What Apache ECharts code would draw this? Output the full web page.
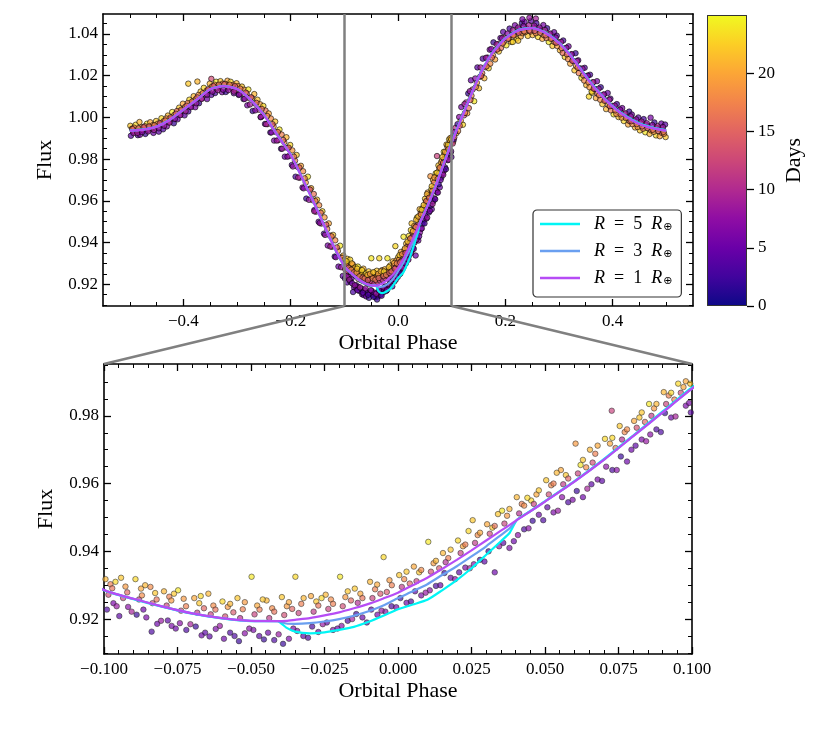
<!DOCTYPE html>
<html>
<head>
<meta charset="utf-8">
<script src="https://cdn.jsdelivr.net/npm/echarts@6.0.0/dist/echarts.min.js"></script>
<style>
  html, body { margin: 0; padding: 0; background: #fff; }
  #chart { width: 830px; height: 738px; }
</style>
</head>
<body>
<div id="chart"></div>
<script>
// observations outside the zoom window: [phase, flux, day]
var pointsOuter = [
  [-0.499,0.9960,22],[-0.496,0.9946,18],[-0.494,0.9931,12],[-0.498,0.9912,4],
  [-0.489,0.9965,23],[-0.492,0.9951,17],[-0.487,0.9936,11],[-0.485,0.9915,3],
  [-0.482,0.9978,21],[-0.478,0.9953,19],[-0.476,0.9939,13],[-0.481,0.9917,6],
  [-0.468,0.9970,24],[-0.472,0.9958,16],[-0.466,0.9941,10],[-0.471,0.9921,2],
  [-0.462,0.9977,20],[-0.457,0.9963,18],[-0.459,0.9947,12],[-0.456,0.9926,5],
  [-0.451,0.9983,22],[-0.448,0.9970,19],[-0.453,0.9952,11],[-0.446,0.9932,4],
  [-0.441,0.9996,23],[-0.437,0.9982,17],[-0.443,0.9965,13],[-0.438,0.9943,3],
  [-0.429,1.0009,21],[-0.432,0.9995,18],[-0.427,0.9978,10],[-0.431,0.9957,6],
  [-0.421,1.0026,24],[-0.417,1.0012,19],[-0.423,0.9994,12],[-0.418,0.9972,2],
  [-0.408,1.0047,22],[-0.412,1.0031,16],[-0.406,1.0013,11],[-0.411,0.9991,5],
  [-0.401,1.0066,20],[-0.397,1.0050,18],[-0.403,1.0033,13],[-0.398,1.0010,4],
  [-0.389,1.0085,23],[-0.392,1.0069,17],[-0.387,1.0052,11],[-0.391,1.0029,3],
  [-0.381,1.0102,21],[-0.377,1.0088,19],[-0.383,1.0071,12],[-0.378,1.0049,6],
  [-0.368,1.0124,22],[-0.372,1.0108,18],[-0.366,1.0091,10],[-0.371,1.0068,2],
  [-0.362,1.0142,23],[-0.357,1.0128,17],[-0.359,1.0111,13],[-0.356,1.0088,5],
  [-0.391,1.0162,22],[-0.374,1.0172,21],[-0.348,1.0185,13],
  [-0.351,1.0162,21],[-0.347,1.0148,19],[-0.353,1.0131,11],[-0.348,1.0108,4],
  [-0.339,1.0171,24],[-0.342,1.0157,18],[-0.337,1.0140,12],[-0.341,1.0117,3],
  [-0.331,1.0174,22],[-0.327,1.0162,17],[-0.333,1.0145,10],[-0.328,1.0121,6],
  [-0.318,1.0176,20],[-0.322,1.0161,19],[-0.316,1.0145,13],[-0.321,1.0122,2],
  [-0.312,1.0171,23],[-0.307,1.0157,16],[-0.309,1.0139,11],[-0.306,1.0116,5],
  [-0.301,1.0164,21],[-0.298,1.0150,18],[-0.303,1.0131,12],[-0.297,1.0108,4],
  [-0.291,1.0148,22],[-0.287,1.0133,19],[-0.293,1.0114,10],[-0.288,1.0088,3],
  [-0.279,1.0134,24],[-0.282,1.0115,17],[-0.277,1.0092,13],[-0.281,1.0058,6],
  [-0.268,1.0112,21],[-0.272,1.0092,18],[-0.266,1.0066,11],[-0.271,1.0031,2],
  [-0.262,1.0085,22],[-0.257,1.0063,19],[-0.259,1.0037,12],[-0.256,1.0001,5],
  [-0.251,1.0055,23],[-0.247,1.0033,16],[-0.253,1.0007,10],[-0.248,0.9969,4],
  [-0.241,1.0019,20],[-0.237,0.9995,18],[-0.243,0.9968,13],[-0.238,0.9928,3],
  [-0.229,0.9980,22],[-0.232,0.9957,19],[-0.227,0.9929,11],[-0.231,0.9889,6],
  [-0.221,0.9942,24],[-0.217,0.9918,17],[-0.223,0.9891,12],[-0.218,0.9850,2],
  [-0.208,0.9905,21],[-0.212,0.9881,18],[-0.206,0.9853,10],[-0.211,0.9812,5],
  [-0.201,0.9868,23],[-0.197,0.9842,19],[-0.203,0.9815,13],[-0.198,0.9772,4],
  [-0.189,0.9820,22],[-0.192,0.9793,17],[-0.187,0.9763,11],[-0.191,0.9716,3],
  [-0.181,0.9768,20],[-0.177,0.9742,18],[-0.183,0.9711,12],[-0.178,0.9664,6],
  [-0.168,0.9716,24],[-0.172,0.9688,19],[-0.166,0.9657,10],[-0.171,0.9611,2],
  [-0.162,0.9661,21],[-0.157,0.9633,16],[-0.159,0.9603,13],[-0.156,0.9556,5],
  [-0.151,0.9606,22],[-0.147,0.9579,18],[-0.153,0.9548,11],[-0.148,0.9500,4],
  [-0.141,0.9550,23],[-0.137,0.9521,19],[-0.143,0.9491,12],[-0.138,0.9443,3],
  [-0.129,0.9492,20],[-0.132,0.9465,17],[-0.127,0.9434,10],[-0.131,0.9386,6],
  [-0.121,0.9437,22],[-0.117,0.9411,18],[-0.123,0.9380,13],[-0.118,0.9333,2],
  [-0.108,0.9385,24],[-0.112,0.9360,19],[-0.106,0.9330,11],[-0.111,0.9285,5],
  [-0.102,0.9338,21],[-0.103,0.9240,4],
  [-0.495,0.9944,15],[-0.493,0.9925,8],[-0.484,0.9948,16],[-0.486,0.9926,9],
  [-0.474,0.9953,14],[-0.477,0.9930,7],[-0.464,0.9957,15],[-0.466,0.9933,8],
  [-0.454,0.9962,17],[-0.455,0.9940,9],[-0.444,0.9972,14],[-0.446,0.9948,7],
  [-0.434,0.9985,16],[-0.436,0.9960,8],[-0.424,1.0000,15],[-0.426,0.9975,9],
  [-0.414,1.0018,14],[-0.416,0.9993,7],[-0.404,1.0037,16],[-0.406,1.0011,8],
  [-0.394,1.0056,15],[-0.396,1.0030,9],[-0.384,1.0076,17],[-0.386,1.0049,7],
  [-0.374,1.0096,14],[-0.376,1.0068,8],[-0.364,1.0116,16],[-0.366,1.0089,9],
  [-0.354,1.0135,15],[-0.356,1.0109,7],[-0.344,1.0150,14],[-0.346,1.0124,8],
  [-0.334,1.0157,16],[-0.336,1.0131,9],[-0.324,1.0159,15],[-0.326,1.0133,7],
  [-0.314,1.0157,17],[-0.316,1.0131,8],[-0.304,1.0150,14],[-0.306,1.0124,9],
  [-0.294,1.0138,16],[-0.296,1.0110,7],[-0.284,1.0119,15],[-0.286,1.0089,8],
  [-0.274,1.0097,14],[-0.276,1.0062,9],[-0.264,1.0070,16],[-0.266,1.0034,7],
  [-0.254,1.0041,15],[-0.256,1.0003,8],[-0.244,1.0007,17],[-0.246,0.9968,9],
  [-0.234,0.9968,14],[-0.236,0.9928,7],[-0.224,0.9930,16],[-0.226,0.9889,8],
  [-0.214,0.9892,15],[-0.216,0.9850,9],[-0.204,0.9855,14],[-0.206,0.9812,7],
  [-0.194,0.9812,16],[-0.196,0.9765,8],[-0.184,0.9760,15],[-0.186,0.9712,9],
  [-0.174,0.9708,17],[-0.176,0.9660,7],[-0.164,0.9654,14],[-0.166,0.9605,8],
  [-0.154,0.9599,16],[-0.156,0.9550,9],[-0.144,0.9543,15],[-0.146,0.9494,7],
  [-0.134,0.9486,14],[-0.136,0.9437,8],[-0.124,0.9430,16],[-0.126,0.9381,9],
  [-0.114,0.9377,15],[-0.116,0.9330,7],[-0.104,0.9326,17],[-0.106,0.9282,8],
  [0.101,0.9905,22],[0.103,0.9885,17],[0.102,0.9875,12],[0.104,0.9895,4],
  [0.109,0.9925,21],[0.112,0.9935,18],[0.107,0.9950,11],[0.111,0.9968,3],
  [0.121,0.9965,23],[0.117,0.9985,19],[0.123,1.0010,13],[0.118,1.0050,6],
  [0.129,1.0020,20],[0.132,1.0045,16],[0.127,1.0072,10],[0.131,1.0115,2],
  [0.142,1.0078,24],[0.137,1.0104,18],[0.139,1.0134,12],[0.136,1.0178,5],
  [0.151,1.0140,22],[0.147,1.0166,19],[0.153,1.0195,11],[0.148,1.0240,4],
  [0.161,1.0188,21],[0.157,1.0212,17],[0.163,1.0241,13],[0.158,1.0282,3],
  [0.169,1.0236,23],[0.172,1.0258,18],[0.167,1.0287,10],[0.171,1.0325,6],
  [0.181,1.0278,20],[0.177,1.0298,19],[0.183,1.0324,12],[0.178,1.0360,2],
  [0.188,1.0316,22],[0.192,1.0333,16],[0.187,1.0352,11],[0.191,1.0381,5],
  [0.202,1.0346,24],[0.197,1.0362,18],[0.199,1.0382,13],[0.196,1.0410,4],
  [0.211,1.0362,21],[0.207,1.0378,19],[0.213,1.0397,10],[0.208,1.0426,3],
  [0.221,1.0378,23],[0.217,1.0394,17],[0.223,1.0413,12],[0.218,1.0442,6],
  [0.229,1.0388,20],[0.232,1.0404,18],[0.227,1.0424,11],[0.231,1.0453,2],
  [0.242,1.0391,22],[0.237,1.0409,19],[0.239,1.0428,13],[0.236,1.0458,5],
  [0.251,1.0395,21],[0.247,1.0412,16],[0.253,1.0431,10],[0.248,1.0463,4],
  [0.245,1.0478,8],[0.232,1.0471,6],[0.257,1.0474,9],[0.214,1.0362,23],[0.224,1.0368,22],
  [0.261,1.0386,23],[0.257,1.0404,18],[0.263,1.0422,12],[0.258,1.0452,3],
  [0.269,1.0377,20],[0.272,1.0394,19],[0.267,1.0414,11],[0.271,1.0443,6],
  [0.281,1.0362,24],[0.277,1.0381,17],[0.283,1.0398,13],[0.278,1.0428,2],
  [0.288,1.0343,22],[0.292,1.0361,18],[0.287,1.0379,10],[0.291,1.0409,5],
  [0.302,1.0322,21],[0.297,1.0342,19],[0.299,1.0361,12],[0.296,1.0392,4],
  [0.311,1.0290,23],[0.307,1.0309,16],[0.313,1.0332,11],[0.308,1.0369,3],
  [0.321,1.0258,20],[0.317,1.0280,18],[0.323,1.0303,13],[0.318,1.0341,6],
  [0.329,1.0226,22],[0.332,1.0247,19],[0.327,1.0271,10],[0.331,1.0308,2],
  [0.342,1.0190,24],[0.337,1.0213,17],[0.339,1.0236,12],[0.336,1.0274,5],
  [0.351,1.0155,21],[0.347,1.0177,18],[0.353,1.0200,11],[0.348,1.0238,4],
  [0.356,1.0100,23],[0.362,1.0118,22],
  [0.361,1.0124,23],[0.357,1.0145,19],[0.363,1.0168,13],[0.358,1.0205,3],
  [0.369,1.0093,20],[0.372,1.0114,16],[0.367,1.0137,10],[0.371,1.0174,6],
  [0.381,1.0064,22],[0.377,1.0085,18],[0.383,1.0108,12],[0.378,1.0145,2],
  [0.388,1.0040,21],[0.392,1.0060,19],[0.387,1.0082,11],[0.391,1.0117,5],
  [0.402,1.0015,24],[0.397,1.0034,17],[0.399,1.0056,13],[0.396,1.0090,4],
  [0.411,1.0002,22],[0.407,1.0017,18],[0.413,1.0036,10],[0.408,1.0064,3],
  [0.421,0.9983,23],[0.417,0.9999,19],[0.423,1.0017,12],[0.418,1.0045,6],
  [0.429,0.9966,20],[0.432,0.9982,16],[0.427,1.0001,11],[0.431,1.0028,2],
  [0.442,0.9952,21],[0.437,0.9968,18],[0.439,0.9986,13],[0.436,1.0014,5],
  [0.451,0.9938,22],[0.447,0.9954,19],[0.453,0.9972,10],[0.448,1.0000,4],
  [0.461,0.9929,24],[0.457,0.9946,17],[0.463,0.9964,12],[0.458,0.9992,3],
  [0.469,0.9921,21],[0.472,0.9938,18],[0.467,0.9957,11],[0.471,0.9999,6],
  [0.481,0.9914,23],[0.477,0.9931,19],[0.483,0.9949,13],[0.478,0.9976,2],
  [0.488,0.9910,20],[0.492,0.9926,16],[0.487,0.9944,10],[0.491,0.9971,5],
  [0.499,0.9906,22],[0.496,0.9922,18],[0.494,0.9940,12],[0.498,0.9966,4],
  [0.105,0.9905,15],[0.106,0.9930,8],[0.115,0.9960,14],[0.114,1.0002,7],
  [0.125,1.0022,16],[0.124,1.0064,9],[0.135,1.0084,15],[0.134,1.0126,8],
  [0.145,1.0146,17],[0.144,1.0187,7],[0.155,1.0199,14],[0.154,1.0240,9],
  [0.165,1.0245,16],[0.164,1.0286,8],[0.175,1.0287,15],[0.174,1.0328,7],
  [0.185,1.0326,14],[0.184,1.0351,9],[0.195,1.0355,16],[0.194,1.0380,8],
  [0.205,1.0377,15],[0.204,1.0402,7],[0.215,1.0393,17],[0.214,1.0418,9],
  [0.225,1.0406,14],[0.224,1.0431,8],[0.235,1.0413,16],[0.234,1.0438,7],
  [0.245,1.0417,15],[0.244,1.0442,9],[0.255,1.0415,14],[0.254,1.0440,8],
  [0.265,1.0406,16],[0.264,1.0431,7],[0.275,1.0394,15],[0.274,1.0419,9],
  [0.285,1.0377,17],[0.284,1.0402,8],[0.295,1.0358,14],[0.294,1.0383,7],
  [0.305,1.0333,16],[0.304,1.0362,9],[0.315,1.0303,15],[0.314,1.0334,8],
  [0.325,1.0272,14],[0.324,1.0303,7],[0.335,1.0239,16],[0.334,1.0270,9],
  [0.345,1.0203,15],[0.344,1.0234,8],[0.355,1.0169,17],[0.354,1.0200,7],
  [0.365,1.0138,14],[0.364,1.0169,9],[0.375,1.0107,16],[0.374,1.0138,8],
  [0.385,1.0080,15],[0.384,1.0111,7],[0.395,1.0054,14],[0.394,1.0085,9],
  [0.405,1.0034,16],[0.404,1.0057,8],[0.415,1.0015,15],[0.414,1.0038,7],
  [0.425,0.9997,17],[0.424,1.0020,9],[0.435,0.9982,14],[0.434,1.0005,8],
  [0.445,0.9968,16],[0.444,0.9991,7],[0.455,0.9957,15],[0.454,0.9980,9],
  [0.465,0.9949,14],[0.464,0.9972,8],[0.475,0.9941,16],[0.474,0.9964,7],
  [0.485,0.9935,15],[0.484,0.9958,9],[0.495,0.9931,17],[0.494,0.9954,8]
];

// observations inside the zoom window (-0.1 .. 0.1): [phase, flux, day]
var pointsZoom = [
  [-0.0995,0.9318,21],[-0.0978,0.9303,17],[-0.0985,0.9272,13],[-0.0968,0.9247,6],[-0.0990,0.9228,3],
  [-0.0942,0.9322,22],[-0.0927,0.9296,19],[-0.0935,0.9262,12],[-0.0918,0.9236,7],[-0.0948,0.9209,4],
  [-0.0893,0.9318,23],[-0.0874,0.9290,20],[-0.0881,0.9258,11],[-0.0866,0.9228,5],[-0.0889,0.9213,2],
  [-0.0842,0.9295,18],[-0.0826,0.9277,22],[-0.0835,0.9247,13],[-0.0819,0.9186,5],[-0.0838,0.9163,3],
  [-0.0796,0.9282,21],[-0.0778,0.9266,17],[-0.0787,0.9240,12],[-0.0770,0.9180,6],[-0.0783,0.9196,4],
  [-0.0748,0.9285,24],[-0.0729,0.9260,19],[-0.0738,0.9225,14],[-0.0720,0.9168,3],[-0.0742,0.9188,7],
  [-0.0693,0.9262,20],[-0.0676,0.9247,22],[-0.0683,0.9219,11],[-0.0668,0.9152,5],[-0.0688,0.9178,2],
  [-0.0645,0.9275,21],[-0.0628,0.9240,18],[-0.0637,0.9214,12],[-0.0620,0.9171,6],[-0.0641,0.9149,4],
  [-0.0597,0.9252,23],[-0.0579,0.9236,19],[-0.0588,0.9208,13],[-0.0571,0.9160,3],[-0.0592,0.9142,5],
  [-0.0546,0.9262,22],[-0.0528,0.9229,17],[-0.0537,0.9203,10],[-0.0521,0.9158,7],[-0.0541,0.9135,2],
  [-0.0498,0.9325,24],[-0.0479,0.9240,20],[-0.0488,0.9214,12],[-0.0472,0.9150,4],[-0.0492,0.9168,6],
  [-0.0447,0.9255,21],[-0.0428,0.9232,18],[-0.0438,0.9203,11],[-0.0421,0.9138,3],[-0.0442,0.9160,5],
  [-0.0395,0.9265,22],[-0.0378,0.9238,19],[-0.0387,0.9212,13],[-0.0371,0.9142,6],[-0.0391,0.9127,2],
  [-0.0349,0.9325,23],[-0.0329,0.9245,17],[-0.0338,0.9218,12],[-0.0322,0.9150,4],[-0.0343,0.9165,7],
  [-0.0296,0.9268,20],[-0.0278,0.9252,22],[-0.0287,0.9222,11],[-0.0271,0.9162,5],[-0.0292,0.9178,3],
  [-0.0246,0.9272,21],[-0.0228,0.9258,18],[-0.0237,0.9230,12],[-0.0221,0.9168,6],[-0.0242,0.9190,4],
  [-0.0197,0.9325,24],[-0.0179,0.9265,19],[-0.0188,0.9238,13],[-0.0171,0.9195,3],[-0.0192,0.9180,7],
  [-0.0147,0.9290,22],[-0.0128,0.9275,20],[-0.0137,0.9248,10],[-0.0121,0.9205,5],[-0.0142,0.9215,2],
  [-0.0095,0.9310,21],[-0.0078,0.9288,17],[-0.0087,0.9262,12],[-0.0070,0.9213,6],[-0.0091,0.9228,4],
  [-0.0049,0.9383,23],[-0.0029,0.9315,19],[-0.0038,0.9280,14],[-0.0022,0.9238,3],[-0.0043,0.9222,7],
  [0.0004,0.9330,22],[0.0021,0.9318,18],[0.0013,0.9295,11],[0.0029,0.9248,5],[0.0008,0.9262,2],
  [0.0054,0.9355,20],[0.0072,0.9338,22],[0.0063,0.9312,12],[0.0079,0.9270,6],[0.0058,0.9282,4],
  [0.0103,0.9428,24],[0.0121,0.9365,19],[0.0112,0.9340,13],[0.0129,0.9298,3],[0.0108,0.9285,7],
  [0.0153,0.9395,21],[0.0171,0.9380,17],[0.0162,0.9368,10],[0.0179,0.9322,5],[0.0158,0.9336,2],
  [0.0204,0.9432,23],[0.0221,0.9415,20],[0.0213,0.9395,12],[0.0229,0.9352,6],[0.0208,0.9338,4],
  [0.0254,0.9492,22],[0.0271,0.9448,18],[0.0262,0.9425,11],[0.0279,0.9375,3],[0.0258,0.9362,7],
  [0.0303,0.9480,20],[0.0321,0.9470,22],[0.0312,0.9452,13],[0.0329,0.9338,5],[0.0308,0.9400,2],
  [0.0354,0.9520,24],[0.0371,0.9505,19],[0.0362,0.9482,12],[0.0379,0.9410,6],[0.0358,0.9425,4],
  [0.0404,0.9560,21],[0.0421,0.9540,17],[0.0412,0.9512,10],[0.0429,0.9465,3],[0.0408,0.9448,7],
  [0.0453,0.9550,23],[0.0471,0.9568,20],[0.0462,0.9540,12],[0.0479,0.9508,5],[0.0458,0.9490,2],
  [0.0504,0.9610,22],[0.0521,0.9595,18],[0.0513,0.9568,13],[0.0529,0.9515,6],[0.0508,0.9530,4],
  [0.0554,0.9640,20],[0.0571,0.9625,22],[0.0562,0.9598,11],[0.0579,0.9545,3],[0.0558,0.9560,7],
  [0.0604,0.9718,19],[0.0621,0.9655,24],[0.0612,0.9630,12],[0.0629,0.9560,5],[0.0608,0.9578,2],
  [0.0653,0.9700,21],[0.0671,0.9688,17],[0.0662,0.9662,13],[0.0679,0.9612,6],[0.0658,0.9598,4],
  [0.0704,0.9732,23],[0.0721,0.9718,20],[0.0727,0.9815,12],[0.0729,0.9640,3],[0.0708,0.9650,7],
  [0.0754,0.9770,22],[0.0771,0.9752,18],[0.0762,0.9730,10],[0.0779,0.9665,5],[0.0758,0.9680,2],
  [0.0803,0.9785,20],[0.0821,0.9795,22],[0.0812,0.9765,13],[0.0829,0.9730,6],[0.0808,0.9712,4],
  [0.0854,0.9835,24],[0.0871,0.9822,19],[0.0862,0.9800,11],[0.0879,0.9760,3],[0.0858,0.9745,7],
  [0.0904,0.9870,21],[0.0921,0.9860,17],[0.0912,0.9835,12],[0.0929,0.9795,5],[0.0908,0.9808,2],
  [0.0953,0.9895,23],[0.0971,0.9885,20],[0.0962,0.9868,13],[0.0979,0.9830,6],[0.0996,0.9810,4],
  [-0.0972,0.9291,16],[-0.0957,0.9238,8],[-0.0961,0.9310,23],[-0.0921,0.9279,15],[-0.0906,0.9222,9],
  [-0.0871,0.9270,18],[-0.0856,0.9205,6],[-0.0860,0.9300,21],[-0.0821,0.9258,16],[-0.0806,0.9195,8],
  [-0.0771,0.9255,19],[-0.0756,0.9172,5],[-0.0762,0.9275,22],[-0.0721,0.9238,17],[-0.0706,0.9185,9],
  [-0.0671,0.9268,23],[-0.0656,0.9160,4],[-0.0660,0.9232,15],[-0.0621,0.9228,16],[-0.0606,0.9180,8],
  [-0.0571,0.9245,21],[-0.0556,0.9150,3],[-0.0560,0.9220,14],[-0.0521,0.9250,19],[-0.0506,0.9172,7],
  [-0.0471,0.9228,17],[-0.0456,0.9140,2],[-0.0460,0.9258,22],[-0.0421,0.9222,16],[-0.0406,0.9155,8],
  [-0.0371,0.9250,20],[-0.0356,0.9172,6],[-0.0360,0.9230,15],[-0.0321,0.9262,21],[-0.0306,0.9145,3],
  [-0.0271,0.9240,16],[-0.0256,0.9185,8],[-0.0260,0.9262,23],[-0.0221,0.9245,17],[-0.0206,0.9172,5],
  [-0.0171,0.9282,22],[-0.0156,0.9200,9],[-0.0160,0.9255,15],[-0.0121,0.9262,16],[-0.0106,0.9190,4],
  [-0.0071,0.9302,20],[-0.0056,0.9225,8],[-0.0060,0.9275,14],[-0.0021,0.9300,17],[-0.0006,0.9235,6],
  [0.0029,0.9340,22],[0.0044,0.9252,3],[0.0040,0.9305,15],[0.0079,0.9345,18],[0.0094,0.9278,8],
  [0.0129,0.9372,21],[0.0144,0.9300,5],[0.0140,0.9350,14],[0.0179,0.9405,22],[0.0194,0.9318,7],
  [0.0229,0.9420,17],[0.0244,0.9350,9],[0.0240,0.9460,23],[0.0279,0.9455,20],[0.0294,0.9370,4],
  [0.0329,0.9475,16],[0.0344,0.9415,8],[0.0340,0.9510,22],[0.0379,0.9525,21],[0.0394,0.9430,5],
  [0.0429,0.9535,18],[0.0444,0.9468,7],[0.0440,0.9558,23],[0.0479,0.9580,22],[0.0494,0.9492,3],
  [0.0529,0.9600,17],[0.0544,0.9520,8],[0.0540,0.9632,21],[0.0579,0.9615,15],[0.0594,0.9552,6],
  [0.0629,0.9670,22],[0.0644,0.9585,9],[0.0640,0.9648,18],[0.0679,0.9712,20],[0.0694,0.9608,4],
  [0.0729,0.9735,23],[0.0744,0.9640,7],[0.0740,0.9705,16],[0.0779,0.9760,18],[0.0794,0.9700,5],
  [0.0829,0.9810,22],[0.0844,0.9725,8],[0.0840,0.9782,15],[0.0879,0.9835,21],[0.0894,0.9752,3],
  [0.0929,0.9868,23],[0.0944,0.9798,9],[0.0940,0.9848,17],[0.0979,0.9902,20],[0.0994,0.9895,22],
  [0.0990,0.9838,6]
];

// model light curves
var modelPhase = [-0.5,-0.475,-0.45,-0.425,-0.4,-0.375,-0.35,-0.325,-0.3,-0.275,-0.25,-0.225,-0.2,-0.175,-0.15,-0.125,
  -0.1,-0.09,-0.08,-0.07,-0.06,-0.05,-0.041,-0.038,-0.035,-0.03,-0.025,-0.02,-0.015,-0.01,-0.005,0,
  0.005,0.01,0.015,0.02,0.025,0.03,0.035,0.038,0.0405,0.045,0.05,0.06,0.07,0.08,0.09,0.1,
  0.125,0.15,0.175,0.2,0.225,0.25,0.275,0.3,0.325,0.35,0.375,0.4,0.425,0.45,0.475,0.5];
var fluxR1 = [0.9936,0.9942,0.9956,0.9989,1.0037,1.0085,1.0135,1.0150,1.0136,1.0085,1.0012,0.9915,0.9820,0.9690,0.9553,0.9410,
  0.9286,0.9260,0.9237,0.9217,0.9203,0.9195,0.9194,0.9195,0.9198,0.9203,0.9211,0.9220,0.9232,0.9245,0.9261,0.9278,
  0.9300,0.9322,0.9348,0.9375,0.9403,0.9432,0.9461,0.9478,0.9493,0.9518,0.9547,0.9606,0.9670,0.9740,0.9810,0.9880,
  1.0037,1.0190,1.0305,1.0378,1.0418,1.0428,1.0405,1.0357,1.0285,1.0196,1.0117,1.0052,1.0004,0.9969,0.9949,0.9937];
var fluxR3 = [0.9936,0.9942,0.9956,0.9989,1.0037,1.0085,1.0135,1.0150,1.0136,1.0085,1.0012,0.9915,0.9820,0.9690,0.9553,0.9410,
  0.9286,0.9260,0.9237,0.9217,0.9203,0.9195,0.9194,0.9187,0.9186,0.9188,0.9193,0.9200,0.9210,0.9223,0.9240,0.9262,
  0.9282,0.9303,0.9330,0.9356,0.9385,0.9415,0.9448,0.9468,0.9493,0.9518,0.9547,0.9606,0.9670,0.9740,0.9810,0.9880,
  1.0037,1.0190,1.0305,1.0378,1.0418,1.0428,1.0405,1.0357,1.0285,1.0196,1.0117,1.0052,1.0004,0.9969,0.9949,0.9937];
var fluxR5 = [0.9937,0.9943,0.9957,0.9990,1.0038,1.0086,1.0136,1.0151,1.0137,1.0086,1.0013,0.9916,0.9821,0.9691,0.9554,0.9410,
  0.9285,0.9259,0.9236,0.9216,0.9202,0.9194,0.9194,0.9175,0.9163,0.9158,0.9161,0.9168,0.9177,0.9192,0.9210,0.9229,
  0.9243,0.9257,0.9285,0.9315,0.9350,0.9390,0.9430,0.9455,0.9493,0.9519,0.9548,0.9607,0.9672,0.9742,0.9813,0.9884,
  1.0040,1.0192,1.0307,1.0380,1.0420,1.0430,1.0407,1.0359,1.0288,1.0199,1.0120,1.0055,1.0007,0.9972,0.9952,0.9940];

// tick labels
var topPhaseTicks = [-0.4, -0.2, 0.0, 0.2, 0.4];
var topFluxTicks = [0.92, 0.94, 0.96, 0.98, 1.00, 1.02, 1.04];
var zoomPhaseTicks = [-0.1, -0.075, -0.05, -0.025, 0, 0.025, 0.05, 0.075, 0.1];
var zoomFluxTicks = [0.92, 0.94, 0.96, 0.98];
var dayTicks = [0, 5, 10, 15, 20];

var modelNames = ['R5', 'R3', 'R1'];
var modelRadius = { R5: '5', R3: '3', R1: '1' };
var modelColors = { R5: '#00f5f5', R3: '#6a9ff0', R1: '#b64cf5' };

var plasma = ['#0d0887', '#41049d', '#6a00a8', '#8f0da4', '#b12a90', '#cc4778',
  '#e16462', '#f2844b', '#fca636', '#fcce25', '#f0f921'];

var FONT = "'Liberation Serif', 'DejaVu Serif', serif";
var MINUS = '\u2212';

function steps(a, b, s) {
  var out = [];
  for (var v = a; v <= b + 1e-9; v += s) out.push(+v.toFixed(4));
  return out;
}
function fmt(d) {
  return function (v) { return v.toFixed(d).replace('-', MINUS); };
}

// four axes per direction: main (labels), minor, mirror, mirror minor
function frameAxes(dim, grid, min, max, majors, minors, format, name, nameGap) {
  var line = { color: '#000', width: 1.6 };
  var pos = dim === 'x' ? ['bottom', 'top'] : ['left', 'right'];
  var base = { gridIndex: grid, type: 'value', min: min, max: max, splitLine: { show: false } };
  function major(p, withLabels) {
    var a = Object.assign({}, base, {
      position: p,
      axisLine: { show: true, onZero: false, lineStyle: line },
      axisTick: { show: true, inside: true, length: 7, customValues: majors, lineStyle: { color: '#000', width: 1.3 } },
      axisLabel: withLabels ? {
        customValues: majors, formatter: format, fontFamily: FONT, fontSize: 17, color: '#000',
        margin: dim === 'x' ? 7 : 5
      } : { show: false }
    });
    if (withLabels) {
      a.name = name;
      a.nameLocation = 'middle';
      a.nameGap = nameGap;
      a.nameTextStyle = { fontFamily: FONT, fontSize: 22, color: '#000' };
    }
    return a;
  }
  function minor(p) {
    return Object.assign({}, base, {
      position: p,
      axisLine: { show: false, onZero: false },
      axisTick: { show: true, inside: true, length: 4, customValues: minors, lineStyle: { color: '#000', width: 1 } },
      axisLabel: { show: false }
    });
  }
  return [major(pos[0], true), minor(pos[0]), major(pos[1], false), minor(pos[1])];
}

var xAxes = []
  .concat(frameAxes('x', 0, -0.55, 0.55, topPhaseTicks, steps(-0.5, 0.5, 0.05), fmt(1), 'Orbital Phase', 26))
  .concat(frameAxes('x', 1, -0.1, 0.1, zoomPhaseTicks, steps(-0.1, 0.1, 0.005), fmt(3), 'Orbital Phase', 26))
  .concat([{ gridIndex: 2, type: 'category', data: ['c'], show: false }]);
var yAxes = []
  .concat(frameAxes('y', 0, 0.9096, 1.0496, topFluxTicks, steps(0.91, 1.045, 0.005), fmt(2), 'Flux', 47))
  .concat(frameAxes('y', 1, 0.9097, 0.9953, zoomFluxTicks, steps(0.91, 0.995, 0.005), fmt(2), 'Flux', 47))
  .concat([{
    gridIndex: 2, type: 'value', min: 0, max: 25, position: 'right', splitLine: { show: false },
    axisLine: { show: false, onZero: false },
    axisTick: { show: true, inside: false, length: 7, customValues: dayTicks, lineStyle: { color: '#000', width: 1.3 } },
    axisLabel: { customValues: dayTicks, fontFamily: FONT, fontSize: 17, color: '#000', margin: 11 },
    name: 'Days', nameLocation: 'middle', nameGap: 36, nameRotate: 90,
    nameTextStyle: { fontFamily: FONT, fontSize: 22, color: '#000' }
  }]);

function pairs(ys) {
  return modelPhase.map(function (p, i) { return [p, ys[i]]; });
}
var modelFlux = { R5: fluxR5, R3: fluxR3, R1: fluxR1 };

function scatter(data, axis, size, edge, alpha) {
  return {
    type: 'scatter', data: data, xAxisIndex: axis, yAxisIndex: axis, symbolSize: size,
    silent: true, z: 2,
    itemStyle: { opacity: alpha, borderColor: edge, borderWidth: 0.9 }
  };
}
function modelLine(name, axis, withMarks) {
  var s = {
    type: 'line', name: name, data: pairs(modelFlux[name]), xAxisIndex: axis, yAxisIndex: axis,
    symbol: 'none', smooth: 0.2, silent: true, z: 3,
    lineStyle: { color: modelColors[name], width: 2.2 },
    itemStyle: { color: modelColors[name] }
  };
  if (withMarks) {
    s.markLine = {
      silent: true, symbol: ['none', 'none'], label: { show: false },
      lineStyle: { color: '#808080', width: 2.5, type: 'solid' },
      data: [{ xAxis: -0.1 }, { xAxis: 0.1 }]
    };
  }
  return s;
}

var series = [
  scatter(pointsOuter, 0, 5.5, 'rgba(0,0,0,0.9)', 0.72),
  scatter(pointsZoom, 0, 5.5, 'rgba(0,0,0,0.9)', 0.72),
  scatter(pointsZoom, 4, 5.5, 'rgba(45,45,45,0.9)', 0.68)
];
modelNames.forEach(function (n, i) { series.push(modelLine(n, 0, i === 0)); });
modelNames.forEach(function (n) { series.push(modelLine(n, 4, false)); });
series.push({
  type: 'bar', data: [25], xAxisIndex: 8, yAxisIndex: 8, barWidth: '100%', silent: true,
  itemStyle: {
    borderColor: '#333', borderWidth: 1,
    color: {
      type: 'linear', x: 0, y: 1, x2: 0, y2: 0,
      colorStops: plasma.map(function (c, i) { return { offset: i / (plasma.length - 1), color: c }; })
    }
  }
});

var chart = echarts.init(document.getElementById('chart'), null, { renderer: 'canvas' });
chart.setOption({
  animation: false,
  backgroundColor: '#fff',
  grid: [
    { left: 103, top: 14, width: 590, height: 292 },
    { left: 104, top: 364, width: 588, height: 290 },
    { left: 707, top: 15, width: 40, height: 291 }
  ],
  xAxis: xAxes,
  yAxis: yAxes,
  visualMap: {
    type: 'continuous', show: false, min: 0, max: 25, dimension: 2, seriesIndex: [0, 1, 2],
    inRange: { color: plasma }
  },
  legend: {
    data: modelNames, orient: 'vertical', left: 533, top: 210, selectedMode: false,
    icon: 'rect', itemWidth: 40, itemHeight: 2.5, itemGap: 9,
    padding: [5, 9, 10, 7],
    backgroundColor: '#fff', borderColor: '#333', borderWidth: 1.2, borderRadius: 4,
    formatter: function (name) {
      return '{i|R}\u2002=\u2002' + modelRadius[name] + '\u2002{i|R}{s|\u2295}';
    },
    textStyle: {
      fontFamily: FONT, fontSize: 18, color: '#000', padding: [0, 0, 0, 9],
      rich: {
        i: { fontFamily: FONT, fontSize: 18, fontStyle: 'italic', color: '#000' },
        s: { fontFamily: "'DejaVu Sans', sans-serif", fontSize: 11, color: '#000', padding: [7, 0, 0, 1] }
      }
    }
  },
  series: series
});

// zoom connectors from the top panel's window edges to the lower panel's corners
var yMinTop = yAxes[0].min, yMaxZoom = yAxes[4].max;
var graphics = [-0.1, 0.1].map(function (p) {
  var a = chart.convertToPixel({ seriesIndex: 0 }, [p, yMinTop]);
  var b = chart.convertToPixel({ seriesIndex: 2 }, [p, yMaxZoom]);
  return {
    type: 'line', z: 100, silent: true,
    shape: { x1: a[0], y1: a[1], x2: b[0], y2: b[1] },
    style: { stroke: '#808080', lineWidth: 2.5 }
  };
});
chart.setOption({ graphic: graphics });
</script>
</body>
</html>
